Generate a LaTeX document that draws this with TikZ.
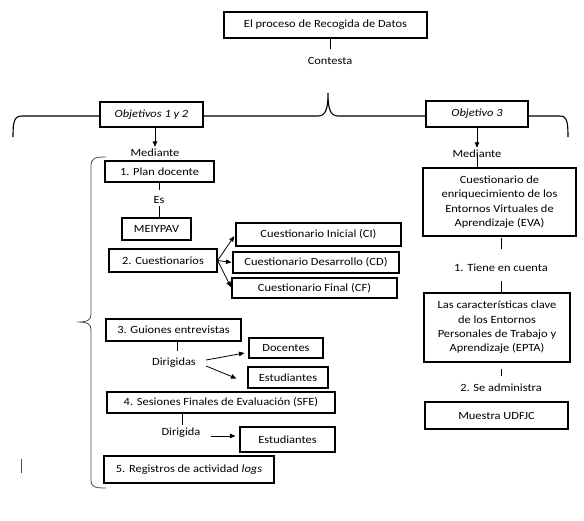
\documentclass[tikz,border=0pt]{standalone}
\usepackage{fontspec}
\setmainfont{Carlito}[FakeStretch=1.13]
\usetikzlibrary{arrows.meta}
\begin{document}
\begin{tikzpicture}[x=1pt,y=-1pt,
  every node/.style={font=\fontsize{11}{14.3}\selectfont},
  box/.style={draw, line width=1.1pt, fill=white, inner sep=0pt, align=center},
  lbl/.style={inner sep=0pt, text height=7.5pt, text depth=2.5pt},
  conn/.style={line width=0.8pt},
  arr/.style={line width=0.8pt, -{Triangle[length=5.5pt,width=4.5pt]}},
  brace/.style={line width=1.1pt},
  vbrace/.style={line width=0.8pt, draw=black!70}]
\useasboundingbox (0,0) rectangle (584,520);

% braces
\draw[brace] (13,137) .. controls (13,122) and (14,116) .. (22,116) -- (318,116)
  .. controls (326,116) and (328,108) .. (328,93)
  .. controls (328,108) and (330,116) .. (338,116) -- (560,116)
  .. controls (567,116) and (568,122) .. (568,137);
\draw[vbrace] (106,157) .. controls (95,157) and (91,158) .. (91,166) -- (91,314)
  .. controls (91,320) and (88,322) .. (77,322)
  .. controls (88,322) and (91,324) .. (91,330) -- (91,480)
  .. controls (91,487) and (95,488) .. (106,488);
\draw[vbrace] (21,459) -- (21,473);

% nodes
\node[box, minimum width=203, minimum height=26] (top) at (325.5,25) {El proceso de Recogida de Datos};
\node[lbl] (contesta) at (330,62) {Contesta};
\node[box, minimum width=103, minimum height=25] (obj12) at (151.5,114.5) {\itshape Objetivos 1 y 2};
\node[box, minimum width=102, minimum height=26] (obj3) at (477,114) {\itshape Objetivo 3};
\node[lbl] (med1) at (155,154) {Mediante};
\node[lbl] (med2) at (477,155) {Mediante};

\node[box, minimum width=109, minimum height=21] (plan) at (159.5,171.5) {1. Plan docente};
\node[lbl] (es) at (159,201) {Es};
\node[box, minimum width=69, minimum height=22] (mei) at (156.5,229) {MEIYPAV};
\node[box, minimum width=108, minimum height=23] (cues) at (163,260.5) {2. Cuestionarios};
\node[box, minimum width=165, minimum height=23] (ci) at (318.5,234.5) {Cuestionario Inicial (CI)};
\node[box, minimum width=166, minimum height=21] (cd) at (316,262.5) {Cuestionario Desarrollo (CD)};
\node[box, minimum width=165, minimum height=20] (cf) at (314.5,288) {Cuestionario Final (CF)};
\node[box, minimum width=135, minimum height=22] (guio) at (173.5,330) {3. Guiones entrevistas};
\node[lbl] (dirs) at (174,363) {Dirigidas};
\node[box, minimum width=74, minimum height=20] (doc) at (286,348) {Docentes};
\node[box, minimum width=80, minimum height=21] (est1) at (288,377.5) {Estudiantes};
\node[box, minimum width=228, minimum height=21] (sfe) at (221,402.5) {4. Sesiones Finales de Evaluación (SFE)};
\node[lbl] (dir) at (181,433) {Dirigida};
\node[box, minimum width=95, minimum height=25] (est2) at (287.5,439.5) {Estudiantes};
\node[box, minimum width=170, minimum height=27] (reg) at (189,469.5) {5. Registros de actividad \textit{logs}};

\node[box, minimum width=153, minimum height=68] (eva) at (499.5,202) {Cuestionario de\\enriquecimiento de los\\Entornos Virtuales de\\Aprendizaje (EVA)};
\node[lbl] (tiene) at (501,269) {1. Tiene en cuenta};
\node[box, minimum width=146, minimum height=69] (epta) at (497,327.5) {Las características clave\\de los Entornos\\Personales de Trabajo y\\Aprendizaje (EPTA)};
\node[lbl] (adm) at (501,389) {2. Se administra};
\node[box, minimum width=143, minimum height=27] (mue) at (496.5,415.5) {Muestra UDFJC};

% connectors
\draw[conn, shorten >=8pt] (top.south -| contesta) -- (contesta.north);
\draw[arr, shorten >=2pt] (obj12.south -| med1) -- (med1.north);
\draw[arr, shorten >=2pt] (obj3.south -| med2) -- (med2.north);
\draw[conn] ([yshift=1pt]med2.center) -- (med2.center |- eva.north);

\draw[conn, shorten >=6pt] (plan.south -| es) -- (es.north);
\draw[conn] (es.south) -- (es.south |- mei.north);
\draw[arr, shorten >=2pt] (cues.east) -- (ci.west);
\draw[arr, shorten >=1pt] (cues.east) -- (cd.west);
\draw[arr, shorten >=1pt] (cues.east) -- (cf.west);

\draw[conn, shorten >=7pt] (guio.south -| 177,0) -- (dirs.north -| 177,0);
\draw[arr] ([shift={(10pt,3pt)}]dirs.east) -- ([shift={(-4pt,-5pt)}]doc.west);
\draw[arr] ([shift={(10pt,-3pt)}]dirs.east) -- ([shift={(-11pt,-1pt)}]est1.west);

\draw[conn, shorten >=3pt] (sfe.south -| 182,0) -- (dir.north -| 182,0);
\draw[arr, shorten >=4pt] ([shift={(10pt,-3pt)}]dir.east) -- ([yshift=-3pt]dir.east -| est2.west);

\draw[conn, shorten <=1pt, shorten >=15pt] (eva.south -| tiene) -- (tiene.north);
\draw[conn, shorten <=7pt] (tiene.south) -- (tiene.south |- epta.north);
\draw[conn, shorten <=6pt, shorten >=8pt] (epta.south -| adm) -- (adm.north);
\end{tikzpicture}
\end{document}
